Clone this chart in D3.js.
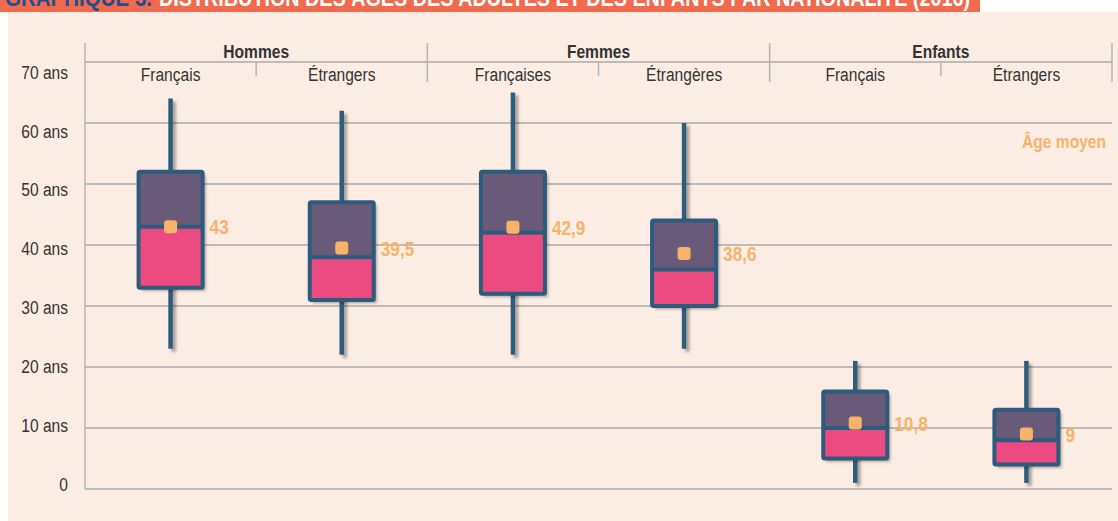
<!DOCTYPE html>
<html>
<head>
<meta charset="utf-8">
<script src="https://cdn.jsdelivr.net/npm/d3@7"></script>
<style>
  html, body { margin: 0; padding: 0; background: #fff; }
  svg { display: block; }
  text { font-family: "Liberation Sans", Arial, sans-serif; }
</style>
</head>
<body>
<div id="chart"></div>
<script>
// data
var groups = ["Hommes", "Femmes", "Enfants"];
var categories = ["Français", "Étrangers", "Françaises", "Étrangères", "Français", "Étrangers"];
var whiskerLow = [23, 22, 22, 23, 1, 1];
var boxLow = [33, 31, 32, 30, 5, 4];
var medians = [43, 38, 42, 36, 10, 8];
var boxHigh = [52, 47, 52, 44, 16, 13];
var whiskerHigh = [64, 62, 65, 60, 21, 21];
var means = [43, 39.5, 42.9, 38.6, 10.8, 9];
var meanLabels = ["43", "39,5", "42,9", "38,6", "10,8", "9"];
var yTicks = [0, 10, 20, 30, 40, 50, 60, 70];
var yTickLabels = ["0", "10 ans", "20 ans", "30 ans", "40 ans", "50 ans", "60 ans", "70 ans"];

var width = 1118, height = 521;
var plotLeft = 85, plotRight = 1112, plotTop = 62, plotBottom = 489;
var squeeze = 0.82; // the source font is a condensed one

// put a text at (fx, fy) and narrow it
function place(sel, fx, fy) {
  sel.attr("transform", function(d, i) {
    return "translate(" + fx(d, i) + "," + fy(d, i) + ") scale(" + squeeze + ",1)";
  });
}

var svg = d3.select("#chart").append("svg")
  .attr("width", width).attr("height", height);

// drop shadow for boxes and whiskers (user space, a vertical line has no bbox width)
var defs = svg.append("defs");
var f = defs.append("filter").attr("id", "shadow")
  .attr("filterUnits", "userSpaceOnUse")
  .attr("x", 0).attr("y", 0).attr("width", width).attr("height", height);
f.append("feDropShadow")
  .attr("dx", 3).attr("dy", 3).attr("stdDeviation", 1.8)
  .attr("flood-color", "#000").attr("flood-opacity", 0.35);

// background panel
svg.append("rect")
  .attr("x", 8).attr("y", 12).attr("width", width - 8).attr("height", height - 12)
  .style("fill", "#fcede4");
svg.append("line")
  .attr("x1", 8.5).attr("x2", 8.5).attr("y1", 12).attr("y2", height)
  .style("stroke", "#ececec").style("stroke-width", 1);

// title bar (cut at the top)
svg.append("rect")
  .attr("x", 0).attr("y", 0).attr("width", 980).attr("height", 12)
  .style("fill", "#f16a4e");
svg.append("text")
  .attr("x", 5).attr("y", 5.5)
  .attr("textLength", 147).attr("lengthAdjust", "spacingAndGlyphs")
  .style("font-size", "24px").style("font-weight", "bold").style("fill", "#1f4f8a")
  .text("GRAPHIQUE 3.");
svg.append("text")
  .attr("x", 159).attr("y", 5.5)
  .attr("textLength", 811).attr("lengthAdjust", "spacingAndGlyphs")
  .style("font-size", "24px").style("font-weight", "bold").style("fill", "#fff")
  .text("DISTRIBUTION DES ÂGES DES ADULTES ET DES ENFANTS PAR NATIONALITÉ (2016)");

// scales
var y = d3.scaleLinear().domain([0, 70]).range([plotBottom, plotTop]);
var yLabel = d3.scaleLinear().domain([0, 70]).range([484, 72]);
var x = d3.scaleBand().domain(d3.range(categories.length)).range([plotLeft, plotRight])
  .paddingInner(0.626).paddingOuter(0.313);
var xCat = d3.scaleBand().domain(d3.range(categories.length)).range([plotLeft, plotRight]);
var xGroup = d3.scaleBand().domain(d3.range(groups.length)).range([plotLeft, plotRight]);

// gridlines
svg.append("g").selectAll("line").data(yTicks).enter().append("line")
  .attr("x1", plotLeft).attr("x2", plotRight)
  .attr("y1", function(d) { return y(d); }).attr("y2", function(d) { return y(d); })
  .style("stroke", "#a9a9a9").style("stroke-width", 1.5);

// y axis line
svg.append("line")
  .attr("x1", plotLeft).attr("x2", plotLeft).attr("y1", 43).attr("y2", plotBottom)
  .style("stroke", "#b4b4b4").style("stroke-width", 1.5);

// y labels
svg.append("g").selectAll("text").data(yTicks).enter().append("text")
  .call(place, function() { return 68; }, function(d) { return yLabel(d); })
  .attr("dy", "0.35em").attr("text-anchor", "end")
  .style("font-size", "19px").style("fill", "#333")
  .text(function(d, i) { return yTickLabels[i]; });

// header: group separators and labels
svg.append("g").selectAll("line").data(d3.range(1, groups.length + 1)).enter().append("line")
  .attr("x1", function(d) { return xGroup(d - 1) + xGroup.bandwidth(); })
  .attr("x2", function(d) { return xGroup(d - 1) + xGroup.bandwidth(); })
  .attr("y1", 43).attr("y2", 82)
  .style("stroke", "#b4b4b4").style("stroke-width", 1.5);
svg.append("g").selectAll("line").data(groups).enter().append("line")
  .attr("x1", function(d, i) { return xGroup(i) + xGroup.bandwidth() / 2; })
  .attr("x2", function(d, i) { return xGroup(i) + xGroup.bandwidth() / 2; })
  .attr("y1", y(70)).attr("y2", 76)
  .style("stroke", "#b4b4b4").style("stroke-width", 1.5);
svg.append("g").selectAll("text").data(groups).enter().append("text")
  .call(place, function(d, i) { return xGroup(i) + xGroup.bandwidth() / 2; }, function() { return 58; })
  .attr("text-anchor", "middle")
  .style("font-size", "19px").style("font-weight", "bold").style("fill", "#333")
  .text(function(d) { return d; });
svg.append("g").selectAll("text").data(categories).enter().append("text")
  .call(place, function(d, i) { return xCat(i) + xCat.bandwidth() / 2; }, function() { return 81; })
  .attr("text-anchor", "middle")
  .style("font-size", "19px").style("fill", "#333")
  .text(function(d) { return d; });

// boxes
var boxes = svg.append("g").selectAll("g").data(categories).enter().append("g");

boxes.append("line")
  .attr("x1", function(d, i) { return x(i) + x.bandwidth() / 2; })
  .attr("x2", function(d, i) { return x(i) + x.bandwidth() / 2; })
  .attr("y1", function(d, i) { return y(whiskerHigh[i]); })
  .attr("y2", function(d, i) { return y(whiskerLow[i]); })
  .attr("filter", "url(#shadow)")
  .style("stroke", "#2d5b7c").style("stroke-width", 4.5);

boxes.append("rect")
  .attr("x", function(d, i) { return x(i); })
  .attr("y", function(d, i) { return y(boxHigh[i]); })
  .attr("width", x.bandwidth())
  .attr("height", function(d, i) { return y(boxLow[i]) - y(boxHigh[i]); })
  .attr("filter", "url(#shadow)")
  .style("fill", "#ec4b82");

boxes.append("rect")
  .attr("x", function(d, i) { return x(i); })
  .attr("y", function(d, i) { return y(boxHigh[i]); })
  .attr("width", x.bandwidth())
  .attr("height", function(d, i) { return y(medians[i]) - y(boxHigh[i]); })
  .style("fill", "#695a79");

boxes.append("rect")
  .attr("x", function(d, i) { return x(i); })
  .attr("y", function(d, i) { return y(boxHigh[i]); })
  .attr("width", x.bandwidth())
  .attr("height", function(d, i) { return y(boxLow[i]) - y(boxHigh[i]); })
  .attr("rx", 1.5)
  .style("fill", "none").style("stroke", "#2d5b7c").style("stroke-width", 4);

boxes.append("line")
  .attr("x1", function(d, i) { return x(i); })
  .attr("x2", function(d, i) { return x(i) + x.bandwidth(); })
  .attr("y1", function(d, i) { return y(medians[i]); })
  .attr("y2", function(d, i) { return y(medians[i]); })
  .style("stroke", "#2d5b7c").style("stroke-width", 4);

// mean markers and labels
boxes.append("rect")
  .attr("x", function(d, i) { return x(i) + x.bandwidth() / 2 - 6.5; })
  .attr("y", function(d, i) { return y(means[i]) - 6.5; })
  .attr("width", 13).attr("height", 13).attr("rx", 3)
  .style("fill", "#f8b26a");

boxes.append("text")
  .call(place, function(d, i) { return x(i) + x.bandwidth() + 7; }, function(d, i) { return y(means[i]); })
  .attr("dy", "0.36em")
  .style("font-size", "21px").style("font-weight", "bold").style("fill", "#f8b26a")
  .text(function(d, i) { return meanLabels[i]; });

svg.append("text")
  .call(place, function() { return 1106; }, function() { return 141; })
  .attr("dy", "0.35em").attr("text-anchor", "end")
  .style("font-size", "19px").style("font-weight", "bold").style("fill", "#f8b26a")
  .text("Âge moyen");
</script>
</body>
</html>
